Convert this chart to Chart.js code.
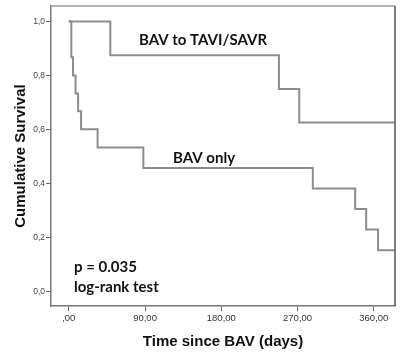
<!DOCTYPE html>
<html>
<head>
<meta charset="utf-8">
<script src="https://cdn.jsdelivr.net/npm/chart.js@4/dist/chart.umd.min.js"></script>
<style>
  html, body { margin: 0; padding: 0; background: #fff; }
  #wrap { width: 400px; height: 359px; position: relative; }
</style>
</head>
<body>
<div id="wrap"><canvas id="kmChart"></canvas></div>
<script>
// ===================== DATA =====================
const xTicks = [0, 90, 180, 270, 360];
const yTicks = [0, 0.2, 0.4, 0.6, 0.8, 1.0];

// BAV followed by TAVI/SAVR
const taviTimes = [0, 49, 248, 272, 385];
const taviSurv = [1.0, 0.875, 0.75, 0.625, 0.625];

// BAV only
const bavTimes = [0, 3, 5, 8, 11, 14.5, 34, 88, 288, 338, 351, 365, 385];
const bavSurv = [1.0, 0.867, 0.8, 0.733, 0.667, 0.6, 0.533, 0.457, 0.381, 0.305, 0.229, 0.152, 0.152];

const labels = [
  { text: "BAV to TAVI/SAVR", x: 139, y: 40 },
  { text: "BAV only", x: 173, y: 158 },
  { text: "p = 0.035", x: 74, y: 267 },
  { text: "log-rank test", x: 74, y: 287 }
];

const toPoints = (xs, ys) => xs.map((x, i) => ({ x: x, y: ys[i] }));
const comma = (v, d) => v.toFixed(d).replace(".", ",");

// ===================== PLUGINS =====================
const frame = {
  id: "frame",
  afterDraw(chart) {
    const { ctx, chartArea: a } = chart;
    ctx.save();
    ctx.lineWidth = 1.5;
    ctx.strokeStyle = "#999";
    ctx.beginPath();
    ctx.moveTo(a.left, a.top);
    ctx.lineTo(a.right, a.top);
    ctx.stroke();
    ctx.strokeStyle = "#555";
    ctx.beginPath();
    ctx.moveTo(a.right, a.top);
    ctx.lineTo(a.right, a.bottom);
    ctx.stroke();
    ctx.restore();
  }
};

const annotations = {
  id: "annotations",
  afterDraw(chart) {
    const ctx = chart.ctx;
    ctx.save();
    ctx.font = "bold 15px Lato, 'Open Sans', sans-serif";
    ctx.fillStyle = "#111";
    ctx.textBaseline = "middle";
    ctx.textAlign = "left";
    labels.forEach(l => ctx.fillText(l.text, l.x, l.y));
    ctx.restore();
  }
};

// ===================== CHART =====================
const ctx = document.getElementById("kmChart").getContext("2d");
const kmChart = new Chart(ctx, {
  type: "line",
  data: {
    datasets: [
      {
        label: "BAV to TAVI/SAVR",
        data: toPoints(taviTimes, taviSurv),
        borderColor: "#8c8c8c",
        borderWidth: 2,
        stepped: "before",
        pointRadius: 0,
        fill: false
      },
      {
        label: "BAV only",
        data: toPoints(bavTimes, bavSurv),
        borderColor: "#8c8c8c",
        borderWidth: 2,
        stepped: "before",
        pointRadius: 0,
        fill: false
      }
    ]
  },
  options: {
    responsive: true,
    maintainAspectRatio: false,
    animation: false,
    layout: { padding: { top: 5, right: 5, left: 0, bottom: 0 } },
    plugins: {
      legend: { display: false },
      tooltip: { enabled: false }
    },
    scales: {
      x: {
        type: "linear",
        min: -21,
        max: 385,
        afterBuildTicks: s => { s.ticks = xTicks.map(v => ({ value: v })); },
        afterFit: s => { s.height = 53; },
        grid: { drawOnChartArea: false, drawTicks: true, tickLength: 5, color: "#666" },
        border: { color: "#777", width: 1.5 },
        ticks: {
          color: "#333",
          padding: 2,
          font: { family: "'Liberation Sans', Arial, sans-serif", size: 9.5 },
          callback: v => v === 0 ? ",00" : comma(v, 2)
        },
        title: {
          display: true,
          text: "Time since BAV (days)",
          color: "#111",
          padding: { top: 0, bottom: 8 },
          font: { family: "'Liberation Sans', Arial, sans-serif", size: 15, weight: "bold" }
        }
      },
      y: {
        min: -0.055,
        max: 1.057,
        afterBuildTicks: s => { s.ticks = yTicks.map(v => ({ value: v })); },
        afterFit: s => { s.width = 51; },
        grid: { drawOnChartArea: false, drawTicks: true, tickLength: 5, color: "#666" },
        border: { color: "#777", width: 1.5 },
        ticks: {
          color: "#444",
          padding: 1,
          font: { family: "'Liberation Sans', Arial, sans-serif", size: 8.5 },
          callback: v => comma(v, 1)
        },
        title: {
          display: true,
          text: "Cumulative Survival",
          color: "#111",
          padding: { top: 12, bottom: 0 },
          font: { family: "'Liberation Sans', Arial, sans-serif", size: 15, weight: "bold" }
        }
      }
    }
  },
  plugins: [frame, annotations]
});
</script>
</body>
</html>
